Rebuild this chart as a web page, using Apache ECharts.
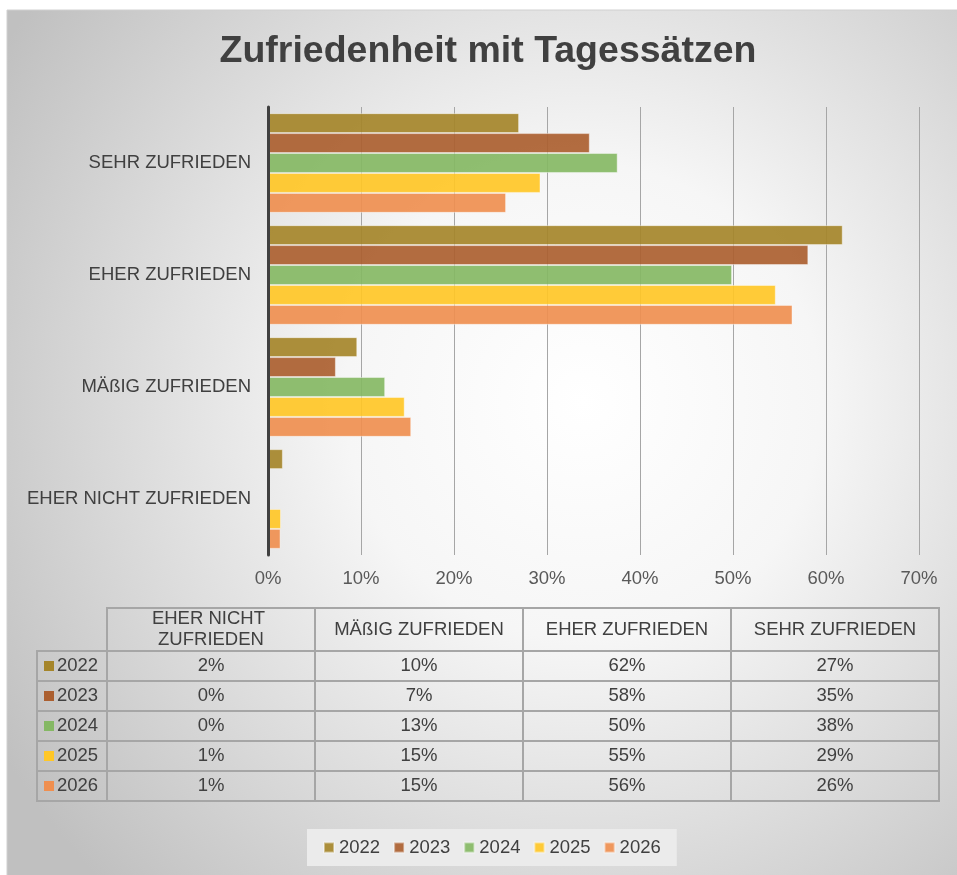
<!DOCTYPE html>
<html>
<head>
<meta charset="utf-8">
<title>Zufriedenheit mit Tagessätzen</title>
<script src="https://cdn.jsdelivr.net/npm/echarts@6/dist/echarts.min.js"></script>
<style>
  html, body { margin: 0; padding: 0; background: #fff; }
  #chart { width: 957px; height: 875px; }
</style>
</head>
<body>
<div id="chart"></div>
<script>
// categories bottom -> top (same order as the data table columns)
const categories = ['EHER NICHT ZUFRIEDEN', 'MÄßIG ZUFRIEDEN', 'EHER ZUFRIEDEN', 'SEHR ZUFRIEDEN'];
const years = ['2022', '2023', '2024', '2025', '2026'];
const colors = ['#A5852A', '#AB5F30', '#85B864', '#FFC727', '#EF8F50'];

// values in percent
const v2022 = [1.6, 9.6, 61.8, 27.0];
const v2023 = [0, 7.3, 58.1, 34.6];
const v2024 = [0, 12.6, 49.9, 37.6];
const v2025 = [1.4, 14.7, 54.6, 29.3];
const v2026 = [1.35, 15.4, 56.4, 25.6];
const values = [v2022, v2023, v2024, v2025, v2026];

const xTicks = [0, 10, 20, 30, 40, 50, 60, 70];

const FONT = '"Liberation Sans", Arial, sans-serif';
const TXT = '#404040';
const FS = 18.5;

let chart = echarts.init(document.getElementById('chart'));

// data table under the plot, built from the arrays above
let tableLeft = 37, firstCol = 107, colW = 208;
let headTop = 608, headH = 43, rowH = 30;
let border = '#a6a6a6';
let tableEls = [];

categories.forEach(function(c, ci){
    let x = firstCol + ci * colW;
    tableEls.push({
        type: 'rect', shape: {x: x, y: headTop, width: colW, height: headH},
        style: {fill: 'transparent', stroke: border, lineWidth: 2}
    });
    tableEls.push({
        type: 'text', x: x + colW / 2, y: headTop + headH / 2,
        style: {text: c, width: 195, overflow: 'break', lineHeight: 21,
            font: FS + 'px ' + FONT, fill: TXT, align: 'center', verticalAlign: 'middle'}
    });
});

years.forEach(function(y, ri){
    let top = headTop + headH + ri * rowH;
    tableEls.push({
        type: 'rect', shape: {x: tableLeft, y: top, width: firstCol - tableLeft, height: rowH},
        style: {fill: 'transparent', stroke: border, lineWidth: 2}
    });
    tableEls.push({
        type: 'rect', shape: {x: 44, y: top + rowH / 2 - 5, width: 10, height: 10},
        style: {fill: colors[ri]}
    });
    tableEls.push({
        type: 'text', x: 57, y: top + rowH / 2,
        style: {text: y, font: FS + 'px ' + FONT, fill: TXT, align: 'left', verticalAlign: 'middle'}
    });
    values[ri].forEach(function(v, ci){
        let x = firstCol + ci * colW;
        tableEls.push({
            type: 'rect', shape: {x: x, y: top, width: colW, height: rowH},
            style: {fill: 'transparent', stroke: border, lineWidth: 2}
        });
        tableEls.push({
            type: 'text', x: x + colW / 2, y: top + rowH / 2,
            style: {text: Math.round(v) + '%', font: FS + 'px ' + FONT, fill: TXT,
                align: 'center', verticalAlign: 'middle'}
        });
    });
});

let option = {
    animation: false,
    backgroundColor: '#ffffff',
    color: colors,
    textStyle: {fontFamily: FONT},
    graphic: [
        {
            type: 'rect', z: -10, silent: true,
            shape: {x: 7, y: 10, width: 960, height: 870},
            style: {
                stroke: '#d0d0d0', lineWidth: 1,
                fill: new echarts.graphic.RadialGradient(0.6, 0.45, 0.78, [
                    {offset: 0, color: '#ffffff'},
                    {offset: 0.35, color: '#f6f6f6'},
                    {offset: 1, color: '#c0c0c0'}
                ])
            }
        },
        {
            type: 'text', x: 488, y: 52,
            style: {text: 'Zufriedenheit mit Tagessätzen', font: 'bold 37.5px ' + FONT,
                fill: TXT, align: 'center', verticalAlign: 'middle'}
        }
    ].concat(tableEls),
    legend: {
        left: 307, top: 829,
        padding: [9, 16, 9, 16],
        backgroundColor: '#ebebeb',
        icon: 'rect',
        itemWidth: 10, itemHeight: 10,
        itemGap: 13,
        data: years,
        textStyle: {fontSize: FS, color: TXT, fontFamily: FONT}
    },
    grid: {left: 268, right: 38, top: 107, bottom: 320, containLabel: false},
    xAxis: {
        type: 'value', min: xTicks[0], max: xTicks[xTicks.length - 1], interval: 10,
        axisLine: {show: false},
        axisTick: {show: false},
        axisLabel: {formatter: '{value}%', fontSize: FS, color: '#595959', margin: 14, fontFamily: FONT},
        splitLine: {show: true, lineStyle: {color: '#a6a6a6', width: 1}}
    },
    yAxis: {
        type: 'category',
        data: categories,
        z: 5,
        axisTick: {show: false},
        axisLine: {show: true, lineStyle: {color: '#404040', width: 3}},
        axisLabel: {fontSize: FS, color: TXT, margin: 17, fontFamily: FONT}
    },
    series: years.map(function(y, i){
        return {
            name: y,
            type: 'bar',
            data: values[i],
            barGap: '0%',
            barCategoryGap: '11%',
            itemStyle: {color: colors[i], opacity: 0.92, borderColor: 'rgba(255,255,255,0.45)', borderWidth: 1}
        };
    })
};

chart.setOption(option);
</script>
</body>
</html>
